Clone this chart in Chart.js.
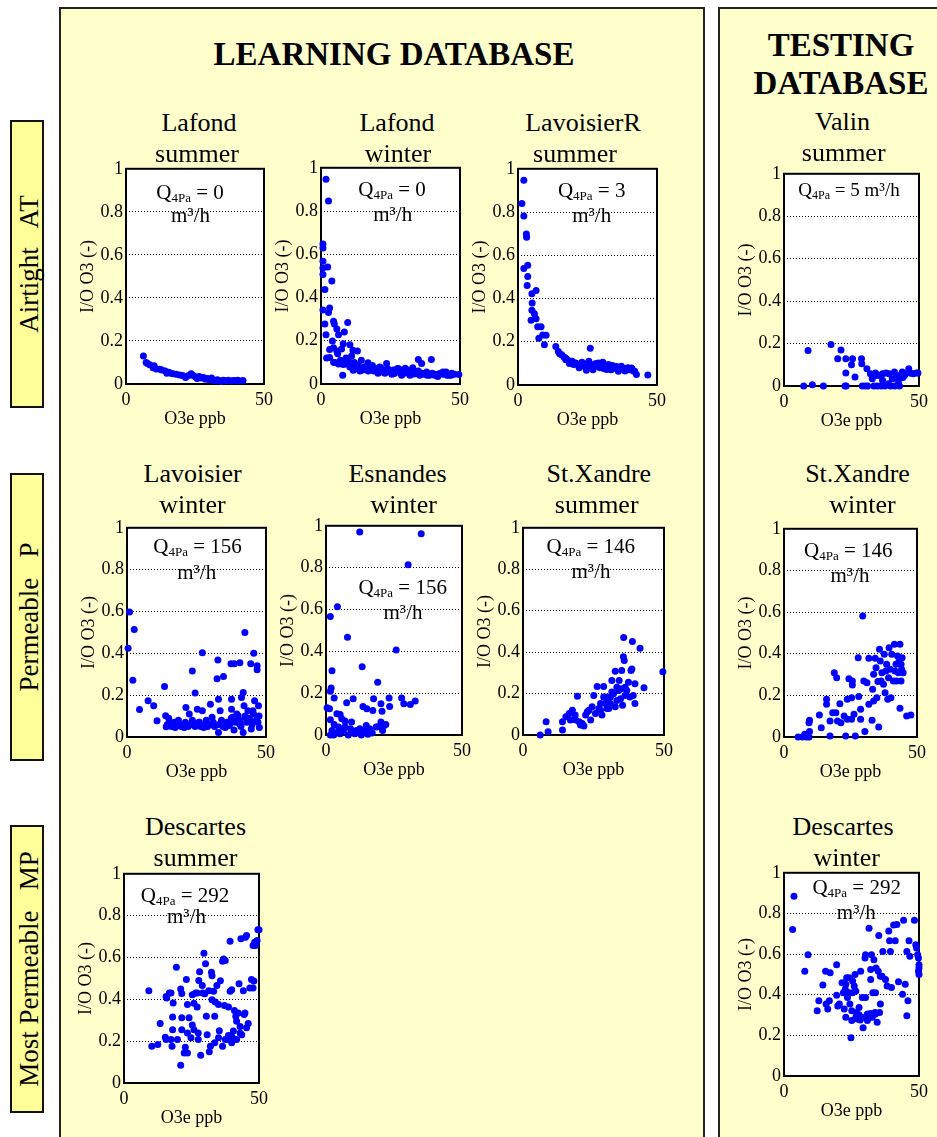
<!DOCTYPE html>
<html><head><meta charset="utf-8">
<script src="https://cdn.jsdelivr.net/npm/chart.js@4.4.1/dist/chart.umd.min.js"></script>
<style>
html,body{margin:0;padding:0;width:937px;height:1137px;overflow:hidden;background:#fff;font-family:'Liberation Serif','Times New Roman',serif;color:#000;}
.panel{position:absolute;background:#ffffcc;border:2px solid #222;box-sizing:border-box;}
.rowlab{position:absolute;left:10px;width:34px;background:#ffff99;border:2px solid #111;box-sizing:border-box;}
.rowlab span{position:absolute;left:calc(50% + 2px);top:50%;transform:translate(-50%,-50%) rotate(-90deg);white-space:pre;font-family:'Liberation Serif',serif;font-size:27px;line-height:27px;}
.big{position:absolute;font-family:'Liberation Serif',serif;font-weight:bold;font-size:33px;line-height:38px;text-align:center;width:600px;white-space:nowrap;}
.ttl{position:absolute;width:240px;text-align:center;font-family:'Liberation Serif',serif;font-size:26px;line-height:31px;white-space:nowrap;z-index:4;}
.ann{position:absolute;width:240px;text-align:center;font-family:'Liberation Serif',serif;font-size:21px;line-height:21px;white-space:pre;z-index:5;}
.ann.small{font-size:19px;line-height:19px;}
.ann sub{font-size:13px;line-height:0;vertical-align:-3px;}
.ann.small sub{font-size:12px;}
canvas{position:absolute;z-index:2;}
</style></head>
<body>
<script>
// ---------- DATA ----------
const xTicks = [0, 50];
const yTicks = [0, 0.2, 0.4, 0.6, 0.8, 1];
const xTitle = "O3e ppb";
const yTitle = "I/O O3 (-)";
const rowLabels = ["Airtight   AT", "Permeable   P", "Most Permeable   MP"];
const panelTitles = ["LEARNING DATABASE", "TESTING", "DATABASE"];
const plotTitles = [["Lafond","summer"],["Lafond","winter"],["LavoisierR","summer"],["Valin","summer"],
  ["Lavoisier","winter"],["Esnandes","winter"],["St.Xandre","summer"],["St.Xandre","winter"],
  ["Descartes","summer"],["Descartes","winter"]];
const q4paValues = ["0","0","3","5","156","156","146","146","292","292"];

const lafondSummerX = [6.3,7.3,7.8,8.6,9.8,10.2,11.0,12.3,13.0,14.2,14.8,15.5,16.3,17.0,18.2,19.4,20.5,21.6,22.5,23.6,24.4,25.2,25.8,26.5,27.3,28.1,28.8,29.5,30.2,31.0,31.6,32.4,33.1,33.8,34.5,35.3,36.2,37.1,38.0,38.9,39.7,40.5,41.3,42.4];
const lafondSummerY = [0.13,0.1,0.095,0.09,0.075,0.085,0.07,0.068,0.065,0.06,0.05,0.055,0.05,0.048,0.045,0.042,0.04,0.03,0.038,0.048,0.04,0.033,0.025,0.035,0.028,0.03,0.022,0.025,0.02,0.028,0.018,0.015,0.02,0.016,0.012,0.018,0.015,0.017,0.014,0.016,0.015,0.017,0.014,0.016];

const lafondWinterX = [1.8,2.7,0.7,0.7,0.7,0.7,0.7,1.4,2.4,3.9,0.7,3.1,2.7,1.4,1.8,4.5,4.8,5.7,6.3,8.4,9.6,4.1,3.1,4.5,5.7,7.4,8.0,10.4,11.5,13.1,3.1,4.5,6.3,7.8,9.0,9.8,10.4,11.6,13.0,14.5,15.7,16.9,18.1,19.3,21.1,22.2,23.6,24.8,26.4,27.5,28.7,30.3,31.7,33.5,35.0,36.2,36.6,38.2,39.7,40.9,42.3,43.9,45.3,46.8,49.6,
  11,12,13.5,14,15,16,17,17.5,18.5,19,20,20.5,21.5,22.5,23,24,25,25.5,26,27,28,29,29.5,30,31,32,32.5,33,34,35,35.5,36,37,38,39,40,41,42,43,44,45,46,47,48,2,5,6,7,8,9,10,11,12];
const lafondWinterY = [0.947,0.846,0.647,0.629,0.568,0.537,0.507,0.437,0.541,0.476,0.342,0.351,0.331,0.278,0.228,0.29,0.278,0.254,0.228,0.241,0.284,0.199,0.159,0.168,0.153,0.162,0.186,0.182,0.156,0.153,0.122,0.101,0.092,0.041,0.092,0.113,0.079,0.064,0.072,0.11,0.079,0.098,0.072,0.064,0.079,0.056,0.095,0.056,0.049,0.072,0.056,0.073,0.052,0.046,0.113,0.095,0.049,0.04,0.113,0.04,0.046,0.056,0.04,0.04,0.044,
  0.09,0.07,0.085,0.06,0.065,0.08,0.06,0.07,0.085,0.06,0.07,0.05,0.075,0.065,0.05,0.07,0.06,0.045,0.065,0.055,0.07,0.04,0.06,0.05,0.065,0.04,0.055,0.075,0.05,0.06,0.04,0.05,0.045,0.055,0.04,0.05,0.045,0.035,0.05,0.045,0.055,0.04,0.05,0.045,0.12,0.1,0.14,0.11,0.09,0.12,0.1,0.13,0.1];

const lavoisierRSummerX = [2.1,1.4,2.1,3.0,3.1,3.5,2.1,3.5,3.3,5.0,6.5,5.1,5.0,5.9,4.7,6.5,7.1,8.3,7.5,8.9,9.5,10.1,13.6,15.7,17.2,18.9,20.7,21.9,24.2,26.0,26.6,24.6,27.8,29.0,30.7,31.9,33.1,34.9,36.1,37.2,39.0,40.8,42.0,42.6,46.7,
  17.5,18.5,19.5,20,21,22,22.5,23,23.5,24.5,25,25.5,26.5,27,28,28.5,29.5,30,30.5,31,32,32.5,33.5,34,35,35.5,36.5,37,38,38.5,39.5,40,41,41.5,14.5,15,16.5,17];
const lavoisierRSummerY = [0.947,0.84,0.782,0.699,0.683,0.554,0.539,0.502,0.46,0.422,0.437,0.379,0.346,0.33,0.3,0.307,0.269,0.269,0.216,0.231,0.186,0.23,0.178,0.14,0.117,0.11,0.102,0.087,0.087,0.17,0.094,0.068,0.087,0.102,0.087,0.072,0.09,0.079,0.064,0.087,0.072,0.079,0.064,0.049,0.046,
  0.12,0.1,0.11,0.095,0.1,0.08,0.095,0.105,0.09,0.08,0.1,0.11,0.085,0.07,0.1,0.09,0.08,0.095,0.105,0.075,0.085,0.095,0.07,0.09,0.08,0.085,0.07,0.08,0.075,0.065,0.08,0.07,0.075,0.065,0.155,0.145,0.13,0.125];

const valinSummerX = [8.9,7.3,10.5,14.6,17.4,21.1,19.9,22.9,25.4,28.7,28.8,25.0,22.9,22.6,26.3,29.0,30.2,30.7,32.0,32.7,33.3,34.6,35.8,36.5,37.4,38.9,40.1,41.0,41.8,42.8,43.2,43.8,44.6,46.2,47.9,49.6,49.0,33.9,37.8,40.9,42.4,38.7,42.4,23.0,31,36,39.5,44,45,47,34.5,36.5];
const valinSummerY = [0.167,0,0.006,0,0.195,0.17,0.128,0.128,0.128,0.128,0.105,0.1,0.061,0,0.042,0,0,0.081,0.058,0.034,0,0,0.05,0.027,0,0.058,0.034,0,0.05,0,0.042,0.066,0.05,0.081,0.058,0.061,0.061,0.061,0.061,0.066,0.027,0.011,0.011,0,0,0,0,0.04,0.058,0.06,0.05,0.058];

const lavoisierWinterX = [0.9,0.4,2.6,2.1,4.5,7.6,9.6,10.8,13.5,13.9,14.1,15.3,16.5,17.6,19.4,21.2,22.4,20.6,23.5,24.5,25.3,25.9,27.1,27.1,27.6,30.0,30.6,32.4,32.7,32.9,33.5,32.9,34.7,35.3,37.4,37.6,37.6,38.6,38.0,38.5,40.6,41.2,41.8,42.4,42.1,42.6,41.8,43.5,44.5,45.3,45.6,45.9,46.8,46.8,47.3,47.1,47.6,36.5,38.8,40.0,40.6,44.1,44.7,17.3,
  14.5,15,16,17,18,18.5,19.5,20,21,22,23,23.5,24.5,25,26,26.5,28,28.5,29,30,31,31.5,33,34,34.5,36,37,37.5,39,39.5,40.5,41,42.5,43,44,45,45.5,46.5,47.5];
const lavoisierWinterY = [0.597,0.424,0.514,0.271,0.132,0.173,0.149,0.078,0.241,0.102,0.049,0.07,0.054,0.065,0.054,0.141,0.11,0.046,0.316,0.21,0.133,0.07,0.403,0.125,0.046,0.157,0.094,0.279,0.368,0.181,0.125,0.022,0.289,0.046,0.35,0.181,0.133,0.35,0.094,0.033,0.355,0.189,0.213,0.5,0.149,0.094,0.022,0.125,0.35,0.125,0.4,0.173,0.341,0.322,0.149,0.07,0.046,0.054,0.078,0.102,0.062,0.078,0.038,0.046,
  0.06,0.09,0.05,0.07,0.06,0.08,0.05,0.06,0.07,0.05,0.06,0.08,0.05,0.06,0.07,0.05,0.06,0.08,0.05,0.06,0.07,0.05,0.06,0.08,0.05,0.07,0.06,0.09,0.07,0.11,0.08,0.05,0.1,0.07,0.09,0.06,0.11,0.08,0.1];

const esnandesWinterX = [12.4,35.0,30.2,4.2,1.6,7.9,25.8,2.2,13.3,19.0,1.9,1.6,3.0,10.0,17.5,23.2,27.8,28.6,31.0,32.8,0.4,1.3,7.6,13.6,15.0,17.2,20.2,20.6,23.4,1.6,4.0,5.2,5.8,7.0,9.4,4.6,6.4,2.2,2.8,8.2,10.6,13.0,12.4,14.8,16.0,18.4,20.2,21.4,20.8,15.4,1.6,3.7,5.2,9.4,11.2,3,5,7,9,11,14,17,19,22];
const esnandesWinterY = [0.97,0.962,0.814,0.613,0.566,0.467,0.406,0.307,0.326,0.252,0.225,0.209,0.177,0.173,0.173,0.177,0.177,0.149,0.146,0.162,0.13,0.125,0.154,0.136,0.125,0.117,0.149,0.114,0.136,0.073,0.101,0.098,0.078,0.067,0.062,0.038,0.022,0.022,0,0,0.006,0,0.03,0.046,0.03,0.038,0.062,0.046,0.022,0.003,0,0.01,0.006,0.014,0.022,0.05,0.02,0.04,0.03,0.01,0.02,0.01,0.04,0.05];

const stXandreSummerX = [6.1,8.2,8.9,14.0,14.0,15.2,16.4,17.5,18.5,19.3,16.8,18.7,19.9,21.0,21.6,20.4,22.2,22.8,24.0,24.5,25.1,26.3,25.7,27.5,28.0,28.6,28.6,29.2,29.8,30.4,31.0,31.5,32.1,32.7,33.3,33.9,34.1,34.8,35.0,35.3,35.7,35.6,35.9,36.2,36.8,37.4,37.9,38.3,38.8,38.6,39.1,39.7,41.5,42.9,49.6,36.2,34.6,32.7,31.0,29.2,27.5,26.9,23.4,33.3,31.5,30.4,39.7];
const stXandreSummerY = [0,0.064,0.016,0.024,0.064,0.088,0.104,0.12,0.096,0.187,0.072,0.072,0.064,0.056,0.043,0.048,0.096,0.112,0.072,0.136,0.191,0.234,0.104,0.12,0.096,0.234,0.183,0.152,0.128,0.175,0.152,0.263,0.199,0.308,0.167,0.215,0.263,0.223,0.311,0.144,0.47,0.378,0.359,0.191,0.215,0.255,0.183,0.311,0.451,0.319,0.191,0.152,0.419,0.228,0.305,0.231,0.175,0.136,0.183,0.183,0.152,0.128,0.12,0.231,0.207,0.128,0.247];

const stXandreWinterX = [5.3,6.9,8.4,9.4,7.8,9.6,9.4,9.6,13.3,14.0,16.0,16.0,17.3,17.3,18.3,19.5,18.9,19.8,20.1,21.0,21.4,22.6,23.2,23.8,24.4,25.4,25.7,25.7,25.4,26.3,26.8,27.9,28.1,28.8,28.8,29.6,30.0,30.4,31.2,31.9,31.9,33.1,33.7,33.7,34.3,34.9,35.3,35.6,35.9,36.2,36.5,36.8,37.4,37.7,38.0,38.6,39.0,39.3,39.5,39.9,40.2,40.5,41.1,41.5,41.7,42.1,42.3,42.7,43.0,43.2,43.6,43.6,44.0,44.2,44.4,44.8,44.0,46.1,47.7,23.8,33.3,34.6,38.3];
const stXandreWinterY = [0,0,0,0,0.013,0.026,0.069,0.08,0.106,0.045,0.157,0.181,0.077,0.005,0.117,0.117,0.309,0.285,0.077,0.16,0.069,0.101,0.005,0.085,0.28,0.085,0.269,0.25,0.189,0.109,0.005,0.381,0.194,0.133,0.085,0.581,0.269,0.026,0.261,0.378,0.157,0.08,0.301,0.173,0.378,0.189,0.266,0.048,0.421,0.365,0.269,0.309,0.253,0.397,0.213,0.349,0.181,0.285,0.429,0.325,0.189,0.397,0.269,0.445,0.317,0.349,0.269,0.389,0.309,0.362,0.445,0.138,0.269,0.325,0.381,0.309,0.349,0.101,0.106,0.181,0.229,0.333,0.317];

const descartesSummerX = [9.2,10.3,12.5,13.4,15.6,15.8,16.8,17.4,15.3,15.6,17.4,17.8,18.0,18.0,18.2,19.4,19.8,21.0,21.4,21.4,21.4,22.7,22.3,21.0,23.1,23.5,24.1,23.5,23.5,24.8,25.3,25.9,25.9,26.5,27.1,27.1,27.5,27.7,28.0,28.4,29.0,29.6,29.9,30.2,30.5,30.8,31.4,31.6,32.0,32.4,32.6,33.2,33.6,33.8,34.4,35.0,35.3,35.7,36.5,36.9,37.2,37.5,38.7,38.7,39.3,39.3,39.9,40.1,40.5,40.9,41.4,41.7,42.3,42.6,43.0,43.3,43.6,44.2,44.5,44.8,45.0,45.4,45.4,46.0,46.6,47.2,47.8,47.8,48.1,48.4,48.7,49.3,49.6,50.0,33.6,36.5,37.5,41.7,43.0,38.7,39.9,27.5,25.3,32.6,29.2,35.0];
const descartesSummerY = [0.441,0.176,0.184,0.284,0.414,0.406,0.43,0.43,0.219,0.208,0.208,0.176,0.315,0.254,0.382,0.553,0.208,0.449,0.428,0.312,0.254,0.171,0.144,0.085,0.495,0.375,0.312,0.144,0.239,0.216,0.422,0.381,0.254,0.43,0.43,0.363,0.208,0.49,0.532,0.133,0.466,0.62,0.427,0.57,0.319,0.231,0.441,0.149,0.176,0.529,0.513,0.438,0.319,0.387,0.466,0.216,0.25,0.489,0.582,0.593,0.371,0.586,0.208,0.363,0.678,0.438,0.446,0.219,0.248,0.346,0.319,0.295,0.335,0.474,0.27,0.689,0.231,0.441,0.327,0.335,0.697,0.705,0.264,0.284,0.454,0.495,0.454,0.657,0.487,0.673,0.657,0.681,0.732,0.732,0.192,0.176,0.208,0.208,0.239,0.227,0.192,0.239,0.277,0.398,0.43,0.375];

const descartesWinterX = [3.7,3.2,7.7,8.9,12.3,12.9,14.4,15.4,15.6,16.2,16.8,17.1,19.5,19.5,19.9,20.5,21.5,22.0,22.3,22.7,22.9,23.2,23.5,24.1,24.1,24.4,24.8,25.1,25.4,25.4,26.0,26.3,26.6,26.8,27.2,27.8,28.2,28.4,28.8,29.0,29.3,29.6,30.0,30.2,30.2,30.9,31.5,31.7,32.1,32.1,32.4,32.7,32.9,33.3,33.7,33.9,34.1,34.5,34.9,35.1,35.4,35.7,35.7,36.3,36.6,37.6,38.2,38.8,39.1,39.4,39.8,40.6,41.2,41.8,42.4,43.9,44.3,44.9,45.5,45.9,45.5,46.3,46.6,48.3,48.8,49.1,49.5,49.8,49.8,50.0,50.0,50.0,22.9,25.1,26.6,27.8,30.9,32.1,33.9];
const descartesWinterY = [0.884,0.721,0.516,0.597,0.321,0.37,0.448,0.516,0.354,0.33,0.37,0.508,0.548,0.397,0.345,0.354,0.459,0.41,0.33,0.427,0.451,0.483,0.386,0.41,0.483,0.354,0.188,0.321,0.467,0.41,0.443,0.5,0.418,0.313,0.281,0.337,0.276,0.516,0.289,0.386,0.237,0.289,0.581,0.597,0.386,0.273,0.727,0.289,0.475,0.524,0.597,0.289,0.41,0.572,0.313,0.41,0.532,0.265,0.516,0.692,0.313,0.491,0.354,0.491,0.613,0.475,0.443,0.714,0.665,0.613,0.435,0.743,0.665,0.746,0.464,0.402,0.767,0.451,0.613,0.37,0.297,0.665,0.589,0.767,0.646,0.63,0.597,0.581,0.516,0.5,0.532,0.548,0.289,0.273,0.289,0.302,0.305,0.308,0.305];

const seriesX = [lafondSummerX, lafondWinterX, lavoisierRSummerX, valinSummerX, lavoisierWinterX, esnandesWinterX, stXandreSummerX, stXandreWinterX, descartesSummerX, descartesWinterX];
const seriesY = [lafondSummerY, lafondWinterY, lavoisierRSummerY, valinSummerY, lavoisierWinterY, esnandesWinterY, stXandreSummerY, stXandreWinterY, descartesSummerY, descartesWinterY];

// ---------- LAYOUT (page positions, px) ----------
const plotBoxes = [
  {l:126,t:167,w:140,h:217},{l:321,t:166,w:141,h:218},{l:518,t:167,w:141,h:218},{l:784,t:172,w:137,h:214},
  {l:127,t:526,w:141,h:211},{l:326,t:524,w:138,h:211},{l:523,t:526,w:143,h:209},{l:784,t:527,w:135,h:210},
  {l:124,t:872,w:137,h:211},{l:784,t:871,w:137,h:205}];
const titlePos = [ // cx1, cx2, baseline1
  [199,197,131.5],[397,398,131.5],[583,575,131.5],[842.5,843.7,130.5],
  [192.7,192.5,482.3],[397.5,403.8,482.3],[598.8,596.7,482.3],[857.5,862.5,482.3],
  [195.5,195.5,835],[843,846.7,835]];
const annPos = [ // cx1, base1, cx2, base2
  [190,199.3,190.5,222.7],[392,196.7,392.7,221.7],[591.7,197.3,591.7,222.7],[849,195.7,null,null],
  [197.5,554,196.7,580],[402.7,594.3,403,620],[590.8,553.3,591,578.3],[848.3,557.3,850,582.3],
  [185,903,186.5,924],[856.7,895,856.3,920]];
const rowBoxes = [{t:120,h:288},{t:473,h:288},{t:825,h:288}];

// ---------- BUILD ----------
const FONT = "'Liberation Serif','Times New Roman',serif";
function el(tag, cls, css, html) {
  const e = document.createElement(tag);
  if (cls) e.className = cls;
  Object.assign(e.style, css);
  if (html !== undefined) e.innerHTML = html;
  document.body.appendChild(e);
  return e;
}
el('div','panel',{left:'59px',top:'7px',width:'646px',height:'1300px'});
el('div','panel',{left:'718px',top:'7px',width:'300px',height:'1300px'});
rowBoxes.forEach((b,i)=>{
  const d = el('div','rowlab',{top:b.t+'px',height:b.h+'px'});
  const s = document.createElement('span'); s.textContent = rowLabels[i]; d.appendChild(s);
});
el('div','big',{left:(394-300)+'px',top:'34.8px'}).textContent = panelTitles[0];
el('div','big',{left:(841-300)+'px',top:'26px'}).textContent = panelTitles[1];
el('div','big',{left:(841-300)+'px',top:'64px'}).textContent = panelTitles[2];

plotTitles.forEach((t,i)=>{
  const p = titlePos[i];
  el('div','ttl',{left:(p[0]-120)+'px',top:(p[2]-24.3)+'px'}).textContent = t[0];
  el('div','ttl',{left:(p[1]-120)+'px',top:(p[2]+31-24.3)+'px'}).textContent = t[1];
});
annPos.forEach((a,i)=>{
  if (a[2] === null) {
    el('div','ann small',{left:(a[0]-120)+'px',top:(a[1]-15.9)+'px'}, 'Q<sub>4Pa</sub> = ' + q4paValues[i] + ' m³/h');
  } else {
    el('div','ann',{left:(a[0]-120)+'px',top:(a[1]-17.6)+'px'}, 'Q<sub>4Pa</sub> = ' + q4paValues[i]);
    el('div','ann',{left:(a[2]-120)+'px',top:(a[3]-17.6)+'px'}, 'm³/h');
  }
});

const framePlugin = {
  id: 'frame',
  beforeDraw(chart) {
    const a = chart.chartArea, c = chart.ctx;
    c.save(); c.fillStyle = '#fff'; c.fillRect(a.left, a.top, a.right - a.left, a.bottom - a.top); c.restore();
  },
  beforeDatasetsDraw(chart) {
    const a = chart.chartArea, c = chart.ctx;
    c.save(); c.strokeStyle = '#000'; c.lineWidth = 2;
    c.strokeRect(a.left, a.top, a.right - a.left, a.bottom - a.top); c.restore();
  }
};
const LEFTW = 53, PADT = 12, PADR = 12, BOTH = 50;
plotBoxes.forEach((b,i)=>{
  const cv = document.createElement('canvas');
  const W = LEFTW + b.w + PADR, H = PADT + b.h + BOTH;
  cv.width = W; cv.height = H;
  cv.style.left = (b.l - LEFTW) + 'px'; cv.style.top = (b.t - PADT) + 'px';
  cv.style.width = W + 'px'; cv.style.height = H + 'px';
  document.body.appendChild(cv);
  const pts = seriesX[i].map((x,k)=>({x:x, y:seriesY[i][k]})).filter(p=>p.y!==undefined);
  new Chart(cv, {
    type: 'scatter',
    data: {datasets: [{data: pts, backgroundColor: '#0000ff', borderColor: '#0000ff', borderWidth: 0, pointRadius: 3.5, pointHoverRadius: 3.5, clip: false}]},
    options: {
      responsive: false, animation: false, devicePixelRatio: 1, events: [],
      layout: {padding: {top: PADT, right: PADR, left: 0, bottom: 0}},
      plugins: {legend: {display: false}, tooltip: {enabled: false}},
      scales: {
        x: {type: 'linear', min: 0, max: 50,
          afterBuildTicks: s => { s.ticks = xTicks.map(v => ({value: v})); },
          afterFit: s => { s.height = BOTH; },
          grid: {display: false, drawTicks: false}, border: {display: false},
          ticks: {font: {family: FONT, size: 18}, color: '#000', padding: 5, maxRotation: 0, autoSkip: false, callback: v => String(v)},
          title: {display: true, text: xTitle, font: {family: FONT, size: 18}, color: '#000', padding: {top: 0, bottom: 4}}},
        y: {type: 'linear', min: 0, max: 1,
          afterBuildTicks: s => { s.ticks = yTicks.map(v => ({value: v})); },
          afterFit: s => { s.width = LEFTW; },
          grid: {drawTicks: false, lineWidth: 1, color: c => (c.tick && (c.tick.value === 0 || c.tick.value === 1)) ? 'rgba(0,0,0,0)' : '#000'},
          border: {display: false, dash: [1, 2]},
          ticks: {font: {family: FONT, size: 18}, color: '#000', padding: 3, autoSkip: false, callback: v => String(v)},
          title: {display: true, text: yTitle, font: {family: FONT, size: 18}, color: '#000', padding: {top: 4, bottom: 0}}}
      }
    },
    plugins: [framePlugin]
  });
});
</script>
</body></html>
